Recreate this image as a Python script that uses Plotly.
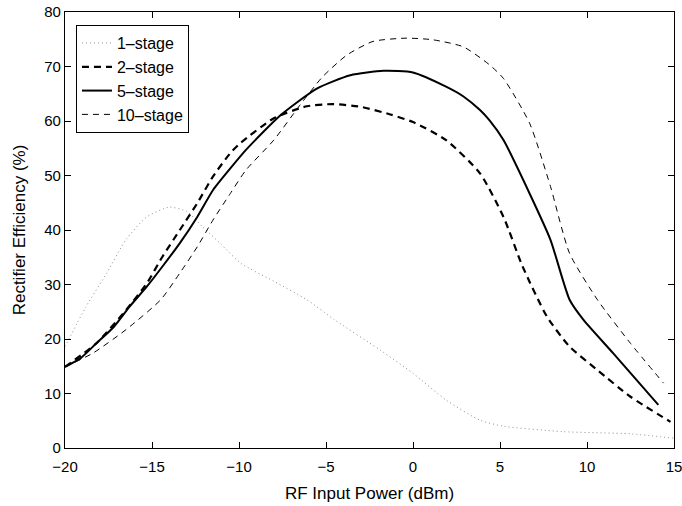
import plotly.graph_objects as go

# Données (x en dBm, y en %)
x_1stage = [-20, -18.8, -17.6, -16.5, -15.3, -14.0, -13.0, -12.1, -11.1, -9.9, -8.0, -6.1, -4.5, -1.9, 0, 1.9, 3.85, 5.2, 8.6, 12.5, 15]
y_1stage = [18.6, 25.9, 32.1, 38.2, 42.4, 44.2, 43.4, 40.6, 37.6, 33.9, 30.6, 27.2, 23.5, 18.0, 13.7, 8.8, 5.1, 4.0, 3.0, 2.6, 1.8]

x_2stage = [-20, -18.2, -16.5, -15.3, -14.4, -13.4, -12.4, -11.5, -10.5, -9.9, -8.0, -6.1, -4.6, -3.0, -1.3, 0, 1.9, 3.85, 5.2, 6.3, 7.7, 9.0, 10.6, 12.5, 14.8]
y_2stage = [14.9, 19.2, 25.3, 30.2, 35.1, 40.0, 44.9, 49.8, 54.1, 56.0, 60.5, 62.7, 63.1, 62.6, 61.2, 59.8, 56.5, 50.4, 42.4, 33.3, 24.1, 18.6, 14.3, 9.4, 4.8]

x_5stage = [-20, -19.1, -18.2, -17.2, -16.3, -15.3, -14.4, -13.4, -12.4, -11.5, -10.5, -9.6, -7.6, -5.5, -3.6, -1.7, 0, 1.9, 2.9, 3.85, 4.4, 5.2, 6.7, 7.9, 9.0, 9.8, 11.5, 14.1]
y_5stage = [14.9, 16.5, 19.2, 22.2, 25.9, 29.6, 33.3, 37.6, 42.4, 47.3, 51.3, 54.7, 61.1, 66.0, 68.4, 69.2, 68.9, 66.3, 64.5, 62.0, 60.1, 56.5, 46.7, 38.2, 27.2, 23.5, 17.4, 7.9]

x_10stage = [-20, -18.4, -16.5, -14.5, -13.4, -12.4, -11.5, -10.5, -9.6, -8.0, -6.5, -5.2, -3.8, -2.3, -0.4, 1.15, 2.9, 4.4, 5.2, 6.7, 7.9, 9.0, 10.6, 12.5, 14.4]
y_10stage = [14.9, 17.4, 21.7, 27.2, 32.1, 36.9, 41.8, 46.7, 51.0, 56.5, 62.9, 68.1, 72.1, 74.6, 75.2, 74.9, 73.6, 70.3, 67.8, 59.6, 48.0, 35.7, 27.2, 19.2, 11.9]

series = [
    ('1\u2013stage', x_1stage, y_1stage, dict(color='#8c8c8c', width=1, dash='1px,3px')),
    ('2\u2013stage', x_2stage, y_2stage, dict(color='black', width=2.2, dash='7px,5px')),
    ('5\u2013stage', x_5stage, y_5stage, dict(color='black', width=2)),
    ('10\u2013stage', x_10stage, y_10stage, dict(color='black', width=1, dash='6px,5px')),
]

fig = go.Figure()
for name, xs, ys, line in series:
    fig.add_trace(go.Scatter(
        x=xs, y=ys, mode='lines', name=name,
        line=dict(shape='spline', smoothing=0.6, **line),
    ))

axis_style = dict(
    showline=True, linecolor='black', linewidth=1.3, mirror='ticks',
    ticks='inside', ticklen=6, tickcolor='black', showgrid=False, zeroline=False,
    tickfont=dict(size=15, color='black'), automargin=False,
    ticklabeloverflow='allow',
)

fig.update_layout(
    width=682, height=506,
    margin=dict(l=65, r=8, t=12, b=58),
    plot_bgcolor='white', paper_bgcolor='white',
    font=dict(family='Liberation Sans, Arial, sans-serif', size=15, color='black'),
    legend=dict(
        x=0.018, y=0.97, xanchor='left', yanchor='top',
        bgcolor='white', bordercolor='black', borderwidth=1,
        font=dict(size=16), tracegroupgap=0,
    ),
)
fig.update_xaxes(range=[-20, 15], tickvals=[-20, -15, -10, -5, 0, 5, 10, 15],
                 ticktext=['\u221220', '\u221215', '\u221210', '\u22125', '0', '5', '10', '15'],
                 ticklabelstandoff=5,
                 title=dict(text='RF Input Power (dBm)', font=dict(size=17), standoff=12),
                 **axis_style)
fig.update_yaxes(range=[0, 80], dtick=10,
                 title=dict(text='Rectifier Efficiency (%)', font=dict(size=17), standoff=14),
                 **axis_style)

# supprime la marge par défaut de la page pour caler la figure sur la fenêtre
fig.write_html("out.html", config={'displayModeBar': False},
               post_script="document.body.style.margin='0';")
